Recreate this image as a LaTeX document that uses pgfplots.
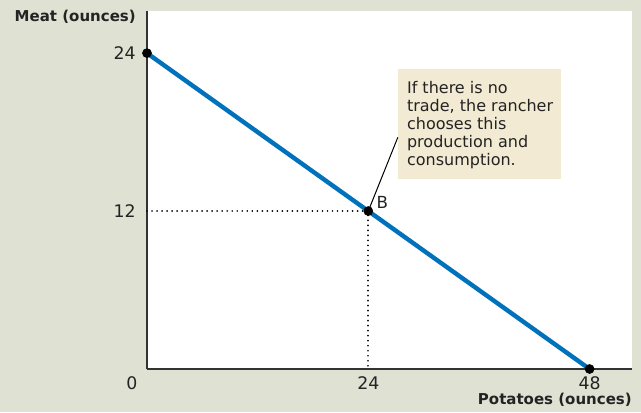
\documentclass[border=0pt]{standalone}
\usepackage{fontspec}
\setmainfont{DejaVu Sans}
\usepackage{pgfplots}
\pgfplotsset{compat=1.18}
\definecolor{bgc}{RGB}{223,225,211}
\definecolor{boxc}{RGB}{242,234,210}
\definecolor{linec}{RGB}{0,114,188}
\definecolor{txt}{RGB}{35,35,35}
\begin{document}
\begin{tikzpicture}
\fill[bgc] (-110.25pt,-32.25pt) rectangle (370.5pt,276.75pt);
\begin{axis}[
  at={(0,0)}, anchor=origin,
  scale only axis, width=363.75pt, height=268.5pt,
  xmin=0, xmax=52.6, ymin=0, ymax=27.2,
  axis lines*=left, axis line style={-, color=black!80, line width=0.9pt},
  axis background/.style={fill=white},
  xtick={24,48}, ytick={12,24},
  major tick length=0pt,
  /pgf/number format/assume math mode=true,
  tick label style={font=\fontsize{13}{15}\selectfont, text=txt},
  yticklabel style={anchor=east, inner sep=0pt, xshift=-8.25pt},
  xticklabel style={anchor=north, inner sep=0pt, yshift=-5.5pt},
  clip=false,
]
\fill[boxc] (axis cs:27.2,14.43) rectangle (axis cs:44.9,22.78);
\addplot[black, line width=1.4pt, dash pattern=on 0.01pt off 3.75pt, line cap=round] coordinates {(0,12) (24,12) (24,0)};
\addplot[linec, line width=3.3pt] coordinates {(0,24) (48,0)};
\draw[black, line width=0.75pt] (axis cs:24,12) -- (axis cs:27.2,17.6);
\addplot[only marks, mark=*, mark size=3.4pt, black] coordinates {(0,24) (24,12) (48,0)};
\node[anchor=south west, inner sep=0pt, xshift=6pt, yshift=1.5pt, font=\fontsize{12.5}{14}\selectfont, text=txt] at (axis cs:24,12) {B};
\node[anchor=north west, inner sep=0pt, align=left, xshift=6.75pt, yshift=-9pt, font=\fontsize{12}{13.5}\selectfont, text=txt] at (axis cs:27.2,22.78) {If there is no\\trade, the rancher\\chooses this\\production and\\consumption.};
\end{axis}
\node[anchor=center, font=\fontsize{13}{15}\selectfont, text=txt] at (-11.25pt,-10.5pt) {0};
\node[anchor=east, inner sep=0pt, font=\bfseries\fontsize{11.25}{13}\selectfont, text=txt] at (-8.25pt,264pt) {Meat (ounces)};
\node[anchor=east, inner sep=0pt, font=\bfseries\fontsize{11.25}{13}\selectfont, text=txt] at (363.75pt,-23.25pt) {Potatoes (ounces)};
\end{tikzpicture}
\end{document}
